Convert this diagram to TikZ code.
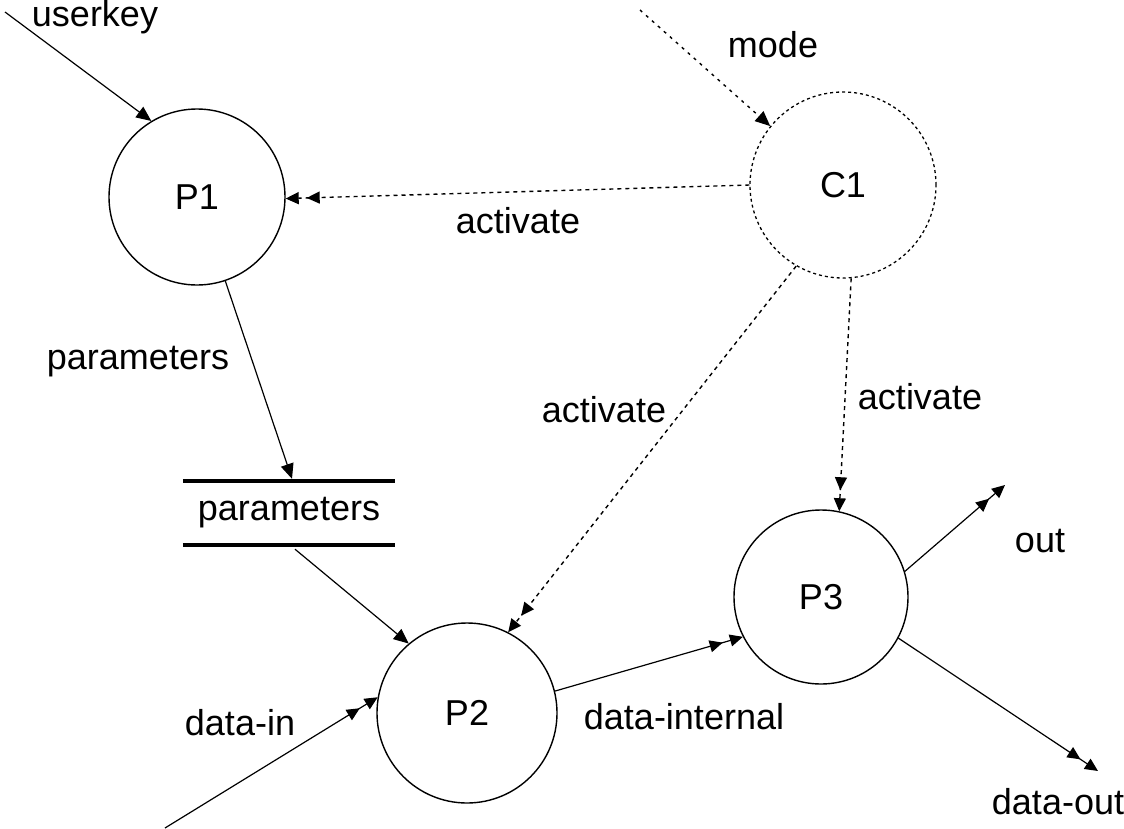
\documentclass[tikz,border=0pt]{standalone}
\usepackage{fontspec}
\setmainfont{Liberation Sans}
\usetikzlibrary{arrows.meta}
\begin{document}
\begin{tikzpicture}[x=1pt,y=-1pt,
  every node/.style={font=\fontsize{36}{42}\selectfont},
  proc/.style={circle,draw,line width=1.4pt,inner sep=0pt},
  ctrl/.style={circle,draw,line width=1.3pt,inner sep=0pt,dash pattern=on 3pt off 3pt},
  flow/.style={line width=1.2pt,-{Triangle[length=15pt,width=13pt]}},
  dflow/.style={line width=1.2pt,-{Triangle[length=13pt,width=12pt,sep=8pt]Triangle[length=13pt,width=12pt]}},
  cflow/.style={line width=1.4pt,dash pattern=on 4pt off 4pt,-{Triangle[length=13pt,width=12pt,sep=8pt]Triangle[length=13pt,width=12pt]}},
  cline/.style={line width=1.4pt,dash pattern=on 3pt off 5pt,-{Triangle[length=15pt,width=13pt]}},
  lbl/.style={inner sep=0pt}]
\useasboundingbox (0,0) rectangle (1124,828);

% processes
\node[proc,minimum size=176pt] (P1) at (197,197) {P1};
\node[ctrl,minimum size=186pt] (C1) at (843,185) {C1};
\node[proc,minimum size=180pt] (P2) at (467,713) {P2};
\node[proc,minimum size=174pt] (P3) at (821,597) {P3};

% data store
\node[minimum width=212pt,minimum height=64pt,inner sep=0pt] (store) at (289,513) {parameters};
\draw[line width=4pt] (store.north west) -- (store.north east);
\draw[line width=4pt] (store.south west) -- (store.south east);

% free ends
\coordinate (ukey) at (5,12);
\coordinate (mode) at (640,10);
\coordinate (din) at (165,828);
\coordinate (out) at (1005,485);
\coordinate (dout) at (1098,771);

% flows
\draw[flow] (ukey) -- (P1.121);
\draw[flow] (P1) -- ([xshift=3pt,yshift=2pt]store.north);
\draw[flow] ([xshift=6pt,yshift=-4pt]store.south) -- (P2.130);
\draw[dflow] (din) -- (P2.170);
\draw[dflow] (P2.14) -- (P3.207);
\draw[dflow] (P3.17) -- (out);
\draw[dflow] (P3.-28) -- (dout);

% control
\draw[cline] (mode) -- (C1.141);
\draw[cflow] (C1.180) -- (P1.-1);
\draw[cflow] (C1.-120) -- (P2.63);
\draw[cflow] (C1.-85) -- (P3.78);

% labels
\node[lbl] (l1) at (95,17) {userkey};
\node[lbl] (l2) at (773,45) {mode};
\node[lbl] (l3) at (518,221) {activate};
\node[lbl] (l4) at (138,362) {parameters};
\node[lbl] (l5) at (604,410) {activate};
\node[lbl] (l6) at (920,397) {activate};
\node[lbl] (l7) at (1040,541) {out};
\node[lbl] (l8) at (684,717) {data-internal};
\node[lbl] (l9) at (240,723) {data-in};
\node[lbl] (l10) at (1058,802) {data-out};
\end{tikzpicture}
\end{document}
